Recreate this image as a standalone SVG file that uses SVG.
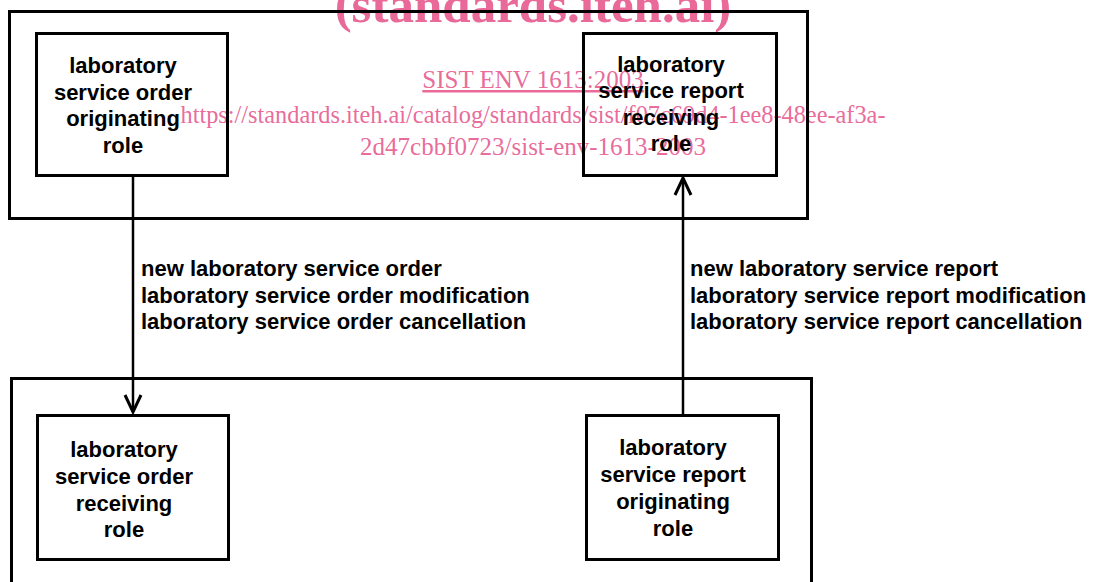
<svg xmlns="http://www.w3.org/2000/svg" width="1099" height="582" viewBox="0 0 1099 582">
<style>
.wm{font-family:"Liberation Serif","Times New Roman",serif;fill:#e3437f;fill-opacity:0.8;text-anchor:middle}
.box{fill:none;stroke:#000;stroke-width:3}
.node{fill:none;stroke:#000;stroke-width:3}
.t{font-family:"Liberation Sans",Arial,sans-serif;font-weight:bold;font-size:22px;fill:#000;text-anchor:middle}
.lbl{font-family:"Liberation Sans",Arial,sans-serif;font-weight:bold;font-size:22px;fill:#000}
.ln{fill:none;stroke:#000;stroke-width:2.5}
.ah{fill:none;stroke:#000;stroke-width:3;stroke-linejoin:miter}
</style>
<rect width="1099" height="582" fill="#fff"/>
<g id="watermark">
<text class="wm" x="533" y="22" font-size="51" font-weight="bold">(standards.iteh.ai)</text>
<text class="wm" x="533" y="88" font-size="25" text-decoration="underline">SIST ENV 1613:2003</text>
<text class="wm" x="533" y="123" font-size="25" textLength="705" lengthAdjust="spacingAndGlyphs">https://standards.iteh.ai/catalog/standards/sist/f07c69d4-1ee8-48ee-af3a-</text>
<text class="wm" x="533" y="155" font-size="25">2d47cbbf0723/sist-env-1613-2003</text>
</g>
<g id="top-container"><rect class="box" x="9.5" y="11.5" width="798" height="207"/></g>
<g id="bottom-container"><rect class="box" x="11.5" y="378.5" width="800" height="230"/></g>
<g id="order-originating">
<rect class="node" x="36.5" y="33.5" width="191" height="142"/>
<text class="t" x="123" y="73">laboratory</text>
<text class="t" x="123" y="100">service order</text>
<text class="t" x="123" y="126">originating</text>
<text class="t" x="123" y="153">role</text>
</g>
<g id="report-receiving">
<rect class="node" x="583.5" y="33.5" width="193" height="142"/>
<text class="t" x="671" y="72">laboratory</text>
<text class="t" x="671" y="98">service report</text>
<text class="t" x="671" y="125">receiving</text>
<text class="t" x="671" y="151">role</text>
</g>
<g id="order-receiving">
<rect class="node" x="37.5" y="415.5" width="191" height="144"/>
<text class="t" x="124" y="457">laboratory</text>
<text class="t" x="124" y="484">service order</text>
<text class="t" x="124" y="511">receiving</text>
<text class="t" x="124" y="537">role</text>
</g>
<g id="report-originating">
<rect class="node" x="586.5" y="415.5" width="192" height="144"/>
<text class="t" x="673" y="455">laboratory</text>
<text class="t" x="673" y="482">service report</text>
<text class="t" x="673" y="509">originating</text>
<text class="t" x="673" y="536">role</text>
</g>
<g id="connectors">
<line class="ln" x1="133" y1="176" x2="133" y2="412"/>
<polyline class="ah" points="125,395 133,412 141,395"/>
<line class="ln" x1="683" y1="415" x2="683" y2="178"/>
<polyline class="ah" points="675,195 683,178 691,195"/>
<text class="lbl" x="141" y="276">new laboratory service order</text>
<text class="lbl" x="141" y="303">laboratory service order modification</text>
<text class="lbl" x="141" y="329">laboratory service order cancellation</text>
<text class="lbl" x="690" y="276">new laboratory service report</text>
<text class="lbl" x="690" y="303">laboratory service report modification</text>
<text class="lbl" x="690" y="329">laboratory service report cancellation</text>
</g>
</svg>
